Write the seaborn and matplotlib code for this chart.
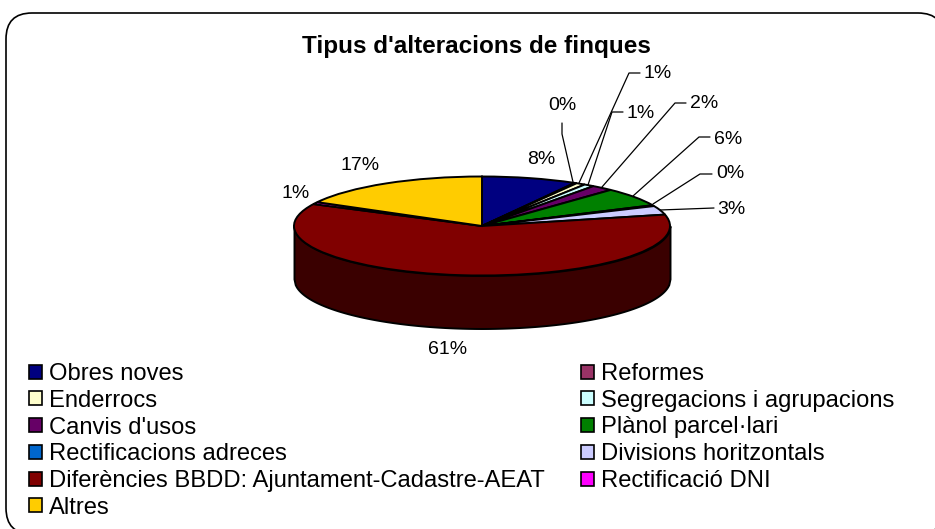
import numpy as np
import matplotlib
matplotlib.use("Agg")
import matplotlib.pyplot as plt
from matplotlib.patches import FancyBboxPatch, Patch
import seaborn as sns

# data
categories = ["Obres noves", "Reformes", "Enderrocs", "Segregacions i agrupacions", "Canvis d'usos",
              "Plànol parcel·lari", "Rectificacions adreces", "Divisions horitzontals",
              "Diferències BBDD: Ajuntament-Cadastre-AEAT", "Rectificació DNI", "Altres"]
values = [8.2, 0.2, 0.8, 0.9, 1.9, 6.1, 0.3, 2.9, 61.0, 0.7, 17.0]
colors = ["#000080", "#993366", "#FFFFCC", "#CCFFFF", "#660066", "#008000",
          "#0066CC", "#CCCCFF", "#800000", "#FF00FF", "#FFCC00"]
title = "Tipus d'alteracions de finques"

sns.set_theme(style="white")
plt.rcParams['font.family'] = ['Liberation Sans', 'DejaVu Sans']
palette = sns.color_palette(colors)

W, H = 935, 529
fig = plt.figure(figsize=(W / 100, H / 100), dpi=100)

# overlay in pixel coords for frame and texts
bg = fig.add_axes([0, 0, 1, 1])
bg.set_xlim(0, W)
bg.set_ylim(H, 0)
bg.axis("off")
# frame runs slightly past the right and bottom edges of the picture
bg.add_patch(FancyBboxPatch((6, 13), 938, 521, boxstyle="round,pad=0,rounding_size=26",
                            fc="white", ec="black", lw=1.2))
bg.text(476.5, 46, title, ha="center", va="center", fontsize=17.5, fontweight="bold", color="black")

# pie axes: one data unit is the ellipse radius in px
cx, cy, rx, ry = 482, 226, 188, 49.5
depth = 53 / ry
ax = fig.add_axes([0, 0, 1, 1])
ax.patch.set_alpha(0)
ax.set_zorder(1)
t = np.linspace(-1, 1, 300)
ax.fill_between(t, -np.sqrt(1 - t ** 2), -np.sqrt(1 - t ** 2) - depth, fc="#3A0000", ec="black", lw=1.4)
ax.pie(values, colors=palette, startangle=90, counterclock=False, radius=1,
       wedgeprops=dict(edgecolor="black", linewidth=1.4))
ax.set_aspect("auto")
ax.set_xlim(-cx / rx, (W - cx) / rx)
ax.set_ylim((cy - H) / ry, cy / ry)
ax.axis("off")

# label position and leader line for each slice, in px
label_pos = [(541, 160), (562, 106), (658, 74), (641, 113), (704, 104), (728, 139),
             (730, 174), (731, 209), (448, 350), (296, 194), (360, 165)]
leaders = [None,
           [(562, 123), (562, 134), (573, 182)],
           [(640, 73), (629, 73), (579, 183)],
           [(623, 112), (612, 112), (588, 185)],
           [(686, 103), (675, 103), (602, 187)],
           [(710, 137), (699, 137), (633, 196)],
           [(712, 174), (700, 174), (653, 204)],
           [(714, 208), (660, 210)],
           None, None, None]
for v, (lx, ly), ld in zip(values, label_pos, leaders):
    bg.text(lx, ly, f"{v:.0f}%", ha="center", va="center", fontsize=14, color="black")
    if ld:
        xs, ys = zip(*ld)
        bg.plot(xs, ys, color="black", lw=0.9)

# legend fills by column, original reads by row
handles = [Patch(fc=c, ec="black", lw=1.2) for c in colors]
order = list(range(0, len(categories), 2)) + list(range(1, len(categories), 2))
bg.legend([handles[i] for i in order], [categories[i] for i in order], ncol=2,
          loc="upper left", bbox_to_anchor=(29 / W, 1 - 363 / H), bbox_transform=fig.transFigure,
          frameon=False, fontsize=17.1, handlelength=0.54, handleheight=0.54,
          handletextpad=0.3, columnspacing=1.54, labelspacing=0.2, borderpad=0, borderaxespad=0,
          labelcolor="black")

fig.savefig("out.png", dpi=100, facecolor="white")
